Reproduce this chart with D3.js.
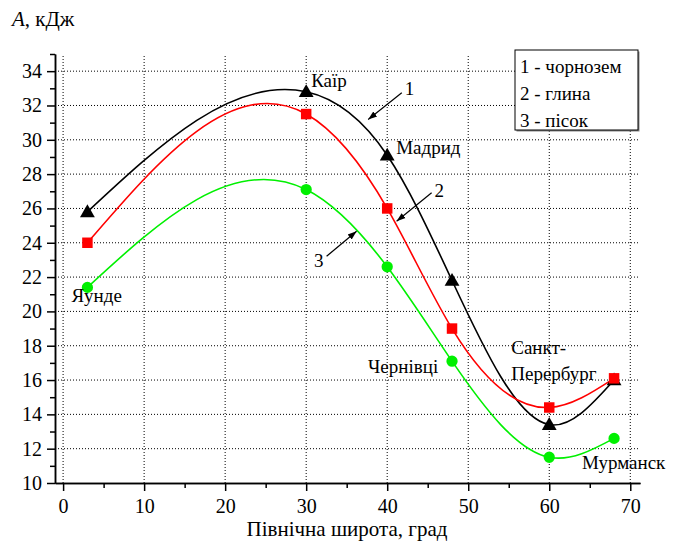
<!DOCTYPE html>
<html>
<head>
<meta charset="utf-8">
<script src="https://cdn.jsdelivr.net/npm/d3@7"></script>
</head>
<body style="margin:0; background:#fff; font-family:'Liberation Serif', serif">
<script>
// Data
const latitudes = [3, 30, 40, 48, 60, 68];
const chernozem = [25.8, 32.8, 29.1, 21.8, 13.4, 16.0];
const clay = [24.0, 31.5, 26.0, 19.0, 14.4, 16.1];
const sand = [21.4, 27.1, 22.6, 17.1, 11.5, 12.6];
const cities = ["Яунде", "Каїр", "Мадрид", "Чернівці", "Санкт-Перербург", "Мурманск"];
const legendItems = ["1 - чорнозем", "2 - глина", "3 - пісок"];
const xTicks = [0, 10, 20, 30, 40, 50, 60, 70];
const yTicks = [10, 12, 14, 16, 18, 20, 22, 24, 26, 28, 30, 32, 34];

const width = 673, height = 541;
const fontSize = 19;
const serif = "Liberation Serif";

const svg = d3.select("body")
  .append("svg")
  .attr("width", width)
  .attr("height", height)
  .attr("font-family", serif);

const x = d3.scaleLinear().domain([-1, 71.2]).range([55, 640]);
const y = d3.scaleLinear().domain([10, 35]).range([483, 54]);

// helper so every text gets the serif face
function txt(parent, size) {
  return parent.append("text")
    .attr("font-family", serif)
    .style("font-family", `"${serif}"`)
    .style("font-size", size + "px")
    .attr("fill", "#000");
}

// natural cubic spline y(x), drawn as exact bezier segments
function curveSplineX(context) {
  return {
    areaStart() {}, areaEnd() {},
    lineStart() { this.px = []; this.py = []; },
    point(a, b) { this.px.push(+a); this.py.push(+b); },
    lineEnd() {
      const xs = this.px, ys = this.py, n = xs.length - 1;
      const h = [], M = new Array(n + 1).fill(0);
      for (let i = 0; i < n; i++) h.push(xs[i + 1] - xs[i]);
      const a = [], b = [], c = [], r = [];
      for (let i = 1; i < n; i++) {
        a.push(h[i - 1]); b.push(2 * (h[i - 1] + h[i])); c.push(h[i]);
        r.push(6 * ((ys[i + 1] - ys[i]) / h[i] - (ys[i] - ys[i - 1]) / h[i - 1]));
      }
      const m = b.length;
      for (let i = 1; i < m; i++) {
        const w = a[i] / b[i - 1];
        b[i] -= w * c[i - 1];
        r[i] -= w * r[i - 1];
      }
      const sol = new Array(m);
      for (let i = m - 1; i >= 0; i--) sol[i] = (r[i] - (i < m - 1 ? c[i] * sol[i + 1] : 0)) / b[i];
      for (let i = 1; i < n; i++) M[i] = sol[i - 1];

      context.moveTo(xs[0], ys[0]);
      for (let i = 0; i < n; i++) {
        const s = (ys[i + 1] - ys[i]) / h[i];
        const d0 = s - h[i] * (2 * M[i] + M[i + 1]) / 6;
        const d1 = s + h[i] * (M[i] + 2 * M[i + 1]) / 6;
        context.bezierCurveTo(
          xs[i] + h[i] / 3, ys[i] + d0 * h[i] / 3,
          xs[i + 1] - h[i] / 3, ys[i + 1] - d1 * h[i] / 3,
          xs[i + 1], ys[i + 1]);
      }
    }
  };
}

// grid
svg.append("g").selectAll("line")
  .data(xTicks)
  .enter().append("line")
  .attr("x1", d => x(d)).attr("x2", d => x(d))
  .attr("y1", y(35) + 2).attr("y2", y(10))
  .attr("stroke", "#000").attr("stroke-width", 1).attr("stroke-dasharray", "1,2");

svg.append("g").selectAll("line")
  .data(yTicks.filter(d => d > 10))
  .enter().append("line")
  .attr("x1", x(-1)).attr("x2", x(71.2))
  .attr("y1", d => y(d)).attr("y2", d => y(d))
  .attr("stroke", "#000").attr("stroke-width", 1).attr("stroke-dasharray", "1,2");

// axes
const xAxis = d3.axisBottom(x).tickValues(xTicks).tickSize(8).tickSizeOuter(0).tickPadding(8);
const xMinor = d3.axisBottom(x).tickValues(d3.range(5, 71, 10)).tickSize(5).tickSizeOuter(0).tickFormat("");
const yAxis = d3.axisLeft(y).tickValues(yTicks).tickSize(8).tickSizeOuter(0).tickPadding(5);
const yMinor = d3.axisLeft(y).tickValues(d3.range(11, 36, 2)).tickSize(5).tickSizeOuter(0).tickFormat("");

function styleAxis(g) {
  g.attr("font-family", serif).attr("font-size", 20);
  g.selectAll("path, line").attr("stroke", "#000").attr("stroke-width", 1.5);
  g.selectAll("text")
    .attr("font-family", serif)
    .style("font-family", `"${serif}"`)
    .style("font-size", "20px")
    .attr("fill", "#000");
}

svg.append("g").attr("transform", `translate(0,${y(10)})`).call(xMinor).call(styleAxis);
svg.append("g").attr("transform", `translate(0,${y(10)})`).call(xAxis).call(styleAxis);
svg.append("g").attr("transform", `translate(${x(-1)},0)`).call(yMinor).call(styleAxis);
svg.append("g").attr("transform", `translate(${x(-1)},0)`).call(yAxis).call(styleAxis);

// axis titles
txt(svg, 21)
  .attr("x", 347)
  .attr("y", 536)
  .attr("text-anchor", "middle")
  .text("Північна широта, град");

const yTitle = txt(svg, 21).attr("x", 12).attr("y", 26);
yTitle.append("tspan").style("font-style", "italic").text("A");
yTitle.append("tspan").text(", кДж");

// series
const seriesList = [
  { values: chernozem, color: "#000000", symbol: d3.symbolTriangle, size: 95 },
  { values: clay, color: "#ff0000", symbol: d3.symbolSquare, size: 110 },
  { values: sand, color: "#00f000", symbol: d3.symbolCircle, size: 100 }
];

const line = d3.line()
  .x(d => x(d[0]))
  .y(d => y(d[1]))
  .curve(curveSplineX);

seriesList.forEach(s => {
  const pts = latitudes.map((lat, i) => [lat, s.values[i]]);
  svg.append("path")
    .attr("d", line(pts))
    .attr("fill", "none")
    .attr("stroke", s.color)
    .attr("stroke-width", 1.6);
});

seriesList.forEach(s => {
  svg.append("g").selectAll("path")
    .data(latitudes.map((lat, i) => [lat, s.values[i]]))
    .enter().append("path")
    .attr("transform", d => `translate(${x(d[0])},${y(d[1]) + (s.symbol === d3.symbolTriangle ? 1 : 0)})`)
    .attr("d", d3.symbol().type(s.symbol).size(s.size))
    .attr("fill", s.color);
});

// city labels, placed relative to the black curve points
const cityOffsets = [
  { dx: -16, dy: 90, lines: [cities[0]] },
  { dx: 5, dy: -5, lines: [cities[1]] },
  { dx: 9, dy: -1, lines: [cities[2]] },
  { dx: -84, dy: 92, lines: [cities[3]] },
  { dx: -38, dy: -71, lines: ["Санкт-", "Перербург"] },
  { dx: -32, dy: 89, lines: [cities[5]] }
];

cityOffsets.forEach((o, i) => {
  const t = txt(svg, fontSize)
    .attr("x", x(latitudes[i]) + o.dx)
    .attr("y", y(chernozem[i]) + o.dy);
  o.lines.forEach((ln, j) => {
    t.append("tspan")
      .attr("x", x(latitudes[i]) + o.dx)
      .attr("dy", j === 0 ? 0 : 26)
      .text(ln);
  });
});

// numbered arrows
svg.append("defs").append("marker")
  .attr("id", "arrow")
  .attr("viewBox", "0 0 10 10")
  .attr("refX", 10).attr("refY", 5)
  .attr("markerWidth", 9).attr("markerHeight", 9)
  .attr("markerUnits", "userSpaceOnUse")
  .attr("orient", "auto")
  .append("path")
  .attr("d", "M0,1.5 L10,5 L0,8.5 Z")
  .attr("fill", "#000");

const arrows = [
  { label: "1", from: [41.8, 32.74], to: [37.65, 31.18], tdx: 3, tdy: 2, anchor: "start" },
  { label: "2", from: [45.48, 26.91], to: [41.16, 25.25], tdx: 3, tdy: 4, anchor: "start" },
  { label: "3", from: [32.52, 23.21], to: [36.22, 24.67], tdx: -3, tdy: 11, anchor: "end" }
];

arrows.forEach(a => {
  svg.append("line")
    .attr("x1", x(a.from[0])).attr("y1", y(a.from[1]))
    .attr("x2", x(a.to[0])).attr("y2", y(a.to[1]))
    .attr("stroke", "#000").attr("stroke-width", 1.2)
    .attr("marker-end", "url(#arrow)");
  txt(svg, fontSize)
    .attr("x", x(a.from[0]) + a.tdx)
    .attr("y", y(a.from[1]) + a.tdy)
    .attr("text-anchor", a.anchor)
    .text(a.label);
});

// legend
const legend = svg.append("g").attr("transform", "translate(515,50)");
legend.append("rect")
  .attr("x", 1.5).attr("y", 1.5)
  .attr("width", 123).attr("height", 80)
  .attr("fill", "#888");
legend.append("rect")
  .attr("width", 123).attr("height", 80)
  .attr("fill", "#fff")
  .attr("stroke", "#000").attr("stroke-width", 1);
legendItems.forEach((d, i) => {
  txt(legend, fontSize)
    .attr("x", 5)
    .attr("y", 23 + i * 27)
    .text(d);
});
</script>
</body>
</html>
